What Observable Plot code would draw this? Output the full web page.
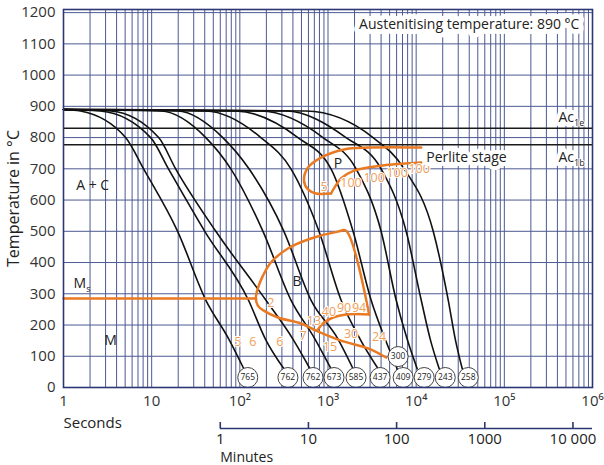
<!DOCTYPE html>
<html><head><meta charset="utf-8">
<script src="https://cdn.jsdelivr.net/npm/d3@7"></script>
<script src="https://cdn.jsdelivr.net/npm/@observablehq/plot@0.6"></script>
<style>body{margin:0;background:#fff}</style>
</head><body><div id="chart"></div>
<script>
// ---- axes / ticks ----
const yTicks = [0,100,200,300,400,500,600,700,800,900,1000,1100,1200];
const secTicks = [1,10,100,1000,10000,100000,1000000];
const secTickLabels = ["1","10","10²","10³","10⁴","10⁵","10⁶"];
const minTicks = [1,10,100,1000,10000];
const minTickLabels = ["1","10","100","1000","10 000"];
const acLines = [830, 777];

// ---- cooling curves: [time s, temperature °C] ----
const cool1  = [[1,890],[1.56,885],[5.06,800],[8.1,700],[19.7,500],[41.1,280],[75,155],[111,60]];
const cool2  = [[1,890],[2.63,885],[9.74,800],[15.5,700],[40,500],[125,280],[195,155],[316,60]];
const cool3  = [[1,890],[3.42,885],[12,800],[18.7,700],[53.4,500],[197,280],[400,155],[625,60]];
const cool4  = [[1,890],[12.7,885],[41.1,800],[79,700],[183,500],[380,280],[712,155],[1082,60]];
const cool5  = [[1,890],[19.7,885],[64.1,800],[127,700],[316,500],[641,280],[1299,155],[1924,60]];
const cool6  = [[1,890],[41.1,885],[173,800],[380,700],[790,500],[1405,280],[2310,155],[3701,60]];
const cool7  = [[1,890],[90,885],[456,800],[1082,700],[1924,500],[3080,280],[4444,155],[6084,60]];
const cool8  = [[1,890],[173,885],[877,800],[2081,700],[4002,500],[5926,280],[7900,155],[10270,60]];
const cool9  = [[1,890],[333,885],[1602,800],[4002,700],[7700,500],[11400,280],[14430,155],[18260,60]];
const cool10 = [[1,890],[562,885],[3246,800],[7305,700],[15610,500],[23100,280],[27750,155],[33330,60]];

// ---- hardness circles ----
const hardness     = [765,762,762,673,585,437,409,279,243,258,300];
const hardnessTime = [123,351,676,1170,2081,3900,7115,12330,21370,38990,6240];
const hardnessTemp = [32,32,32,32,32,32,32,32,32,32,99];

// ---- transformation lines (orange) ----
const msLine = [[1,285],[152,285]];
const bainiteStart = [[4560,96],[2848,125],[1405,150],[731,182],[493,205],[270,224],[187,246],[160,262],[152,288],[164,326],[183,358],[225,400],[351,445],[641,477],[1299,499],[1602,502],[2924,234]];
const bainiteEnd = [[2924,234],[1602,234],[1140,224],[877,205],[750,182]];
const perliteStart = [[11400,768],[2848,768],[1520,762],[832,736],[593,704],[534,662],[593,634],[731,621],[1082,621]];
const perliteEnd = [[1082,621],[1202,643],[1405,669],[1973,694],[4000,710],[11400,720]];

// ---- labels ----
const orangeLabelText = ["5","100","100","100","100","2","13","40","90","94","7","15","30","24","5","6","6"];
const orangeLabelTime = [901,1825,3334,6084,10820,225,693,1026,1520,2250,520,1054,1825,3800,94.9,140,285];
const orangeLabelTemp = [643,656,672,688,701,269,214,243,256,256,166,131,170,163,147,147,147];
const phaseText = ["A + C","M","B","P"];
const phaseTime = [2.14,3.42,444,1299];
const phaseTemp = [646,150,339,717];

const curves = [cool1,cool2,cool3,cool4,cool5,cool6,cool7,cool8,cool9,cool10]
  .flatMap((c, k) => c.map(([t, T]) => ({id: k, t, T})));
const pairs = (arr) => arr.map(([t, T]) => ({t, T}));
const xGrid = d3.range(0, 6).flatMap(e => d3.range(1, 10).map(k => k * 10 ** e)).concat([1e6]);
const circles = hardness.map((h, i) => ({h, t: hardnessTime[i], T: hardnessTemp[i]}));
const oLabels = orangeLabelText.map((s, i) => ({s, t: orangeLabelTime[i], T: orangeLabelTemp[i]}));
const pLabels = phaseText.map((s, i) => ({s, t: phaseTime[i], T: phaseTemp[i]}));

const navy = "#2b3672";
const grid = "#4d5a92";
const orange = "#ea7a22";
const orangeText = "#f0a058";

const chart = Plot.plot({
  width: 604, height: 465,
  marginLeft: 63, marginRight: 12, marginTop: 9, marginBottom: 78,
  style: {fontFamily: "'Open Sans', sans-serif", fontSize: "14px", color: "#333", background: "#fff", overflow: "visible"},
  x: {type: "log", domain: [1, 1e6], axis: null},
  y: {domain: [0, 1210], axis: null},
  marks: [
    Plot.ruleX(xGrid, {stroke: grid, strokeWidth: 1}),
    Plot.ruleY(yTicks, {stroke: grid, strokeWidth: 1}),
    Plot.ruleY(acLines, {stroke: "#1a1a1a", strokeWidth: 1.6}),
    Plot.line(curves, {x: "t", y: "T", z: "id", stroke: "#111", strokeWidth: 1.6, curve: "monotone-x"}),
    Plot.line(pairs(msLine), {x: "t", y: "T", stroke: orange, strokeWidth: 2.5}),
    Plot.line(pairs(bainiteStart), {x: "t", y: "T", stroke: orange, strokeWidth: 2.5, curve: "catmull-rom"}),
    Plot.line(pairs(bainiteEnd), {x: "t", y: "T", stroke: orange, strokeWidth: 2.5, curve: "catmull-rom"}),
    Plot.line(pairs(perliteStart), {x: "t", y: "T", stroke: orange, strokeWidth: 2.5, curve: "catmull-rom"}),
    Plot.line(pairs(perliteEnd), {x: "t", y: "T", stroke: orange, strokeWidth: 2.5, curve: "catmull-rom"}),
    Plot.text(oLabels, {x: "t", y: "T", text: "s", fill: orangeText, fontSize: 12.5, stroke: "white", strokeWidth: 2}),
    Plot.text(pLabels, {x: "t", y: "T", text: "s", fill: "#222", fontSize: 14}),
    Plot.text(["Ms"], {x: 1.30, y: 333, textAnchor: "start", fill: "#222", fontSize: 14}),
    Plot.text(["Ac1e"], {x: 411000, y: 864, textAnchor: "start", fill: "#222", fontSize: 14, stroke: "white", strokeWidth: 8}),
    Plot.text(["Ac1b"], {x: 411000, y: 736, textAnchor: "start", fill: "#222", fontSize: 14, stroke: "white", strokeWidth: 8}),
    Plot.text(["Perlite stage"], {x: 13000, y: 736, textAnchor: "start", fill: "#222", fontSize: 14, stroke: "white", strokeWidth: 8}),
    Plot.text(["Austenitising temperature: 890 °C"], {x: 2250, y: 1162, textAnchor: "start", fill: "#222", fontSize: 14, stroke: "white", strokeWidth: 10}),
    // hardness circles
    Plot.dot(circles, {x: "t", y: "T", r: 10, fill: "white", stroke: "#444", strokeWidth: 1}),
    Plot.text(circles, {x: "t", y: "T", text: "h", fontSize: 8.5, fill: "#222"}),
    Plot.frame({stroke: navy, strokeWidth: 1.6}),
    // axes
    Plot.axisY(yTicks, {tickSize: 0, tickPadding: 8, fontSize: 15, label: null, tickFormat: d => String(d)}),
    Plot.axisX(secTicks, {tickSize: 0, tickPadding: 8, fontSize: 15, label: null, tickFormat: d => secTickLabels[secTicks.indexOf(d)]}),
    Plot.text(["Temperature in °C"], {frameAnchor: "left", textAnchor: "middle", rotate: -90, dx: -50, fontSize: 16, fill: "#222"}),
    Plot.text(["Seconds"], {x: 1, y: 0, dy: 36, textAnchor: "start", fontSize: 15, fill: "#222"}),
    // minutes axis
    Plot.ruleY([0], {x1: 60, x2: 1e6, dy: 41, stroke: navy, strokeWidth: 1.6}),
    Plot.ruleX(minTicks.map(m => m * 60), {y1: 0, y2: 0, insetTop: -6, dy: 41, stroke: navy, strokeWidth: 1.6}),
    Plot.text(minTicks, {x: d => d * 60, y: 0, dy: 52, text: d => minTickLabels[minTicks.indexOf(d)], fontSize: 15, fill: "#222"}),
    Plot.text(["Minutes"], {x: 60, y: 0, dy: 70, textAnchor: "start", fontSize: 14, fill: "#222"})
  ]
});
// subscripts (Ac1e, Ac1b, Ms)
const subs = {"Ac1e": ["Ac", "1e"], "Ac1b": ["Ac", "1b"], "Ms": ["M", "s"]};
chart.querySelectorAll("text").forEach(t => {
  const m = subs[t.textContent];
  if (!m) return;
  t.textContent = m[0];
  const ts = document.createElementNS("http://www.w3.org/2000/svg", "tspan");
  ts.setAttribute("dy", "4");
  ts.setAttribute("font-size", "9");
  ts.setAttribute("stroke-width", "2");
  ts.textContent = m[1];
  t.appendChild(ts);
});
document.getElementById("chart").appendChild(chart);
</script>
</body></html>
